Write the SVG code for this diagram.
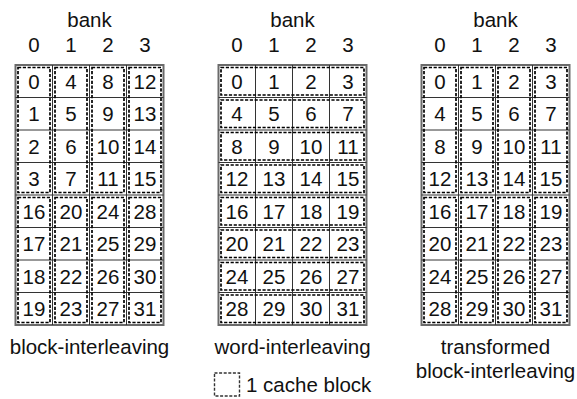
<svg xmlns="http://www.w3.org/2000/svg" width="577" height="399" viewBox="0 0 577 399">
  <style>
    text { font-family: "Liberation Sans", Arial, sans-serif; font-size: 20.5px; fill: #111; text-anchor: middle; }
    .outer { fill: #fff; stroke: #6a6a6a; stroke-width: 2; }
    .inner { fill: none; stroke: #333; stroke-width: 1; }
    .blk { fill: none; stroke: #000; stroke-width: 1.7; stroke-dasharray: 3.2 1.6; }
    .legend { fill: none; stroke: #333; stroke-width: 1.4; stroke-dasharray: 3 1.6; }
  </style>
  <rect width="577" height="399" fill="#fff"/>

  <!-- block-interleaving -->
  <g id="block-interleaving">
    <text x="89.5" y="27">bank</text>
    <text x="34" y="52">0</text><text x="71" y="52">1</text><text x="108" y="52">2</text><text x="145" y="52">3</text>
    <rect class="outer" x="15.5" y="65" width="148" height="260"/>
    <path class="inner" d="M52.5 65V325M89.5 65V325M126.5 65V325M15.5 97.5H163.5M15.5 130H163.5M15.5 162.5H163.5M15.5 195H163.5M15.5 227.5H163.5M15.5 260H163.5M15.5 292.5H163.5"/>
    <rect class="blk" x="18" y="67.5" width="32" height="125"/>
    <rect class="blk" x="55" y="67.5" width="32" height="125"/>
    <rect class="blk" x="92" y="67.5" width="32" height="125"/>
    <rect class="blk" x="129" y="67.5" width="32" height="125"/>
    <rect class="blk" x="18" y="197.5" width="32" height="125"/>
    <rect class="blk" x="55" y="197.5" width="32" height="125"/>
    <rect class="blk" x="92" y="197.5" width="32" height="125"/>
    <rect class="blk" x="129" y="197.5" width="32" height="125"/>
    <text x="34" y="88.5">0</text><text x="71" y="88.5">4</text><text x="108" y="88.5">8</text><text x="145" y="88.5">12</text>
    <text x="34" y="121">1</text><text x="71" y="121">5</text><text x="108" y="121">9</text><text x="145" y="121">13</text>
    <text x="34" y="153.5">2</text><text x="71" y="153.5">6</text><text x="108" y="153.5">10</text><text x="145" y="153.5">14</text>
    <text x="34" y="186">3</text><text x="71" y="186">7</text><text x="108" y="186">11</text><text x="145" y="186">15</text>
    <text x="34" y="218.5">16</text><text x="71" y="218.5">20</text><text x="108" y="218.5">24</text><text x="145" y="218.5">28</text>
    <text x="34" y="251">17</text><text x="71" y="251">21</text><text x="108" y="251">25</text><text x="145" y="251">29</text>
    <text x="34" y="283.5">18</text><text x="71" y="283.5">22</text><text x="108" y="283.5">26</text><text x="145" y="283.5">30</text>
    <text x="34" y="316">19</text><text x="71" y="316">23</text><text x="108" y="316">27</text><text x="145" y="316">31</text>
    <text x="89.5" y="354">block-interleaving</text>
  </g>

  <!-- word-interleaving -->
  <g id="word-interleaving">
    <text x="292.5" y="27">bank</text>
    <text x="237" y="52">0</text><text x="274" y="52">1</text><text x="311" y="52">2</text><text x="348" y="52">3</text>
    <rect class="outer" x="218.5" y="65" width="148" height="260"/>
    <path class="inner" d="M255.5 65V325M292.5 65V325M329.5 65V325M218.5 97.5H366.5M218.5 130H366.5M218.5 162.5H366.5M218.5 195H366.5M218.5 227.5H366.5M218.5 260H366.5M218.5 292.5H366.5"/>
    <rect class="blk" x="221" y="67.5" width="143" height="27.5"/>
    <rect class="blk" x="221" y="100" width="143" height="27.5"/>
    <rect class="blk" x="221" y="132.5" width="143" height="27.5"/>
    <rect class="blk" x="221" y="165" width="143" height="27.5"/>
    <rect class="blk" x="221" y="197.5" width="143" height="27.5"/>
    <rect class="blk" x="221" y="230" width="143" height="27.5"/>
    <rect class="blk" x="221" y="262.5" width="143" height="27.5"/>
    <rect class="blk" x="221" y="295" width="143" height="27.5"/>
    <text x="237" y="88.5">0</text><text x="274" y="88.5">1</text><text x="311" y="88.5">2</text><text x="348" y="88.5">3</text>
    <text x="237" y="121">4</text><text x="274" y="121">5</text><text x="311" y="121">6</text><text x="348" y="121">7</text>
    <text x="237" y="153.5">8</text><text x="274" y="153.5">9</text><text x="311" y="153.5">10</text><text x="348" y="153.5">11</text>
    <text x="237" y="186">12</text><text x="274" y="186">13</text><text x="311" y="186">14</text><text x="348" y="186">15</text>
    <text x="237" y="218.5">16</text><text x="274" y="218.5">17</text><text x="311" y="218.5">18</text><text x="348" y="218.5">19</text>
    <text x="237" y="251">20</text><text x="274" y="251">21</text><text x="311" y="251">22</text><text x="348" y="251">23</text>
    <text x="237" y="283.5">24</text><text x="274" y="283.5">25</text><text x="311" y="283.5">26</text><text x="348" y="283.5">27</text>
    <text x="237" y="316">28</text><text x="274" y="316">29</text><text x="311" y="316">30</text><text x="348" y="316">31</text>
    <text x="292.5" y="354">word-interleaving</text>
  </g>

  <!-- transformed block-interleaving -->
  <g id="transformed-block-interleaving">
    <text x="495.5" y="27">bank</text>
    <text x="440" y="52">0</text><text x="477" y="52">1</text><text x="514" y="52">2</text><text x="551" y="52">3</text>
    <rect class="outer" x="421.5" y="65" width="148" height="260"/>
    <path class="inner" d="M458.5 65V325M495.5 65V325M532.5 65V325M421.5 97.5H569.5M421.5 130H569.5M421.5 162.5H569.5M421.5 195H569.5M421.5 227.5H569.5M421.5 260H569.5M421.5 292.5H569.5"/>
    <rect class="blk" x="424" y="67.5" width="32" height="125"/>
    <rect class="blk" x="461" y="67.5" width="32" height="125"/>
    <rect class="blk" x="498" y="67.5" width="32" height="125"/>
    <rect class="blk" x="535" y="67.5" width="32" height="125"/>
    <rect class="blk" x="424" y="197.5" width="32" height="125"/>
    <rect class="blk" x="461" y="197.5" width="32" height="125"/>
    <rect class="blk" x="498" y="197.5" width="32" height="125"/>
    <rect class="blk" x="535" y="197.5" width="32" height="125"/>
    <text x="440" y="88.5">0</text><text x="477" y="88.5">1</text><text x="514" y="88.5">2</text><text x="551" y="88.5">3</text>
    <text x="440" y="121">4</text><text x="477" y="121">5</text><text x="514" y="121">6</text><text x="551" y="121">7</text>
    <text x="440" y="153.5">8</text><text x="477" y="153.5">9</text><text x="514" y="153.5">10</text><text x="551" y="153.5">11</text>
    <text x="440" y="186">12</text><text x="477" y="186">13</text><text x="514" y="186">14</text><text x="551" y="186">15</text>
    <text x="440" y="218.5">16</text><text x="477" y="218.5">17</text><text x="514" y="218.5">18</text><text x="551" y="218.5">19</text>
    <text x="440" y="251">20</text><text x="477" y="251">21</text><text x="514" y="251">22</text><text x="551" y="251">23</text>
    <text x="440" y="283.5">24</text><text x="477" y="283.5">25</text><text x="514" y="283.5">26</text><text x="551" y="283.5">27</text>
    <text x="440" y="316">28</text><text x="477" y="316">29</text><text x="514" y="316">30</text><text x="551" y="316">31</text>
    <text x="495.5" y="354">transformed</text>
    <text x="495.5" y="378">block-interleaving</text>
  </g>

  <!-- legend -->
  <g id="legend">
    <rect class="legend" x="214.5" y="373" width="25" height="23"/>
    <text x="246" y="392" style="text-anchor:start">1 cache block</text>
  </g>

  <!-- no connectors in this figure -->
  <g id="connectors"/>
</svg>
